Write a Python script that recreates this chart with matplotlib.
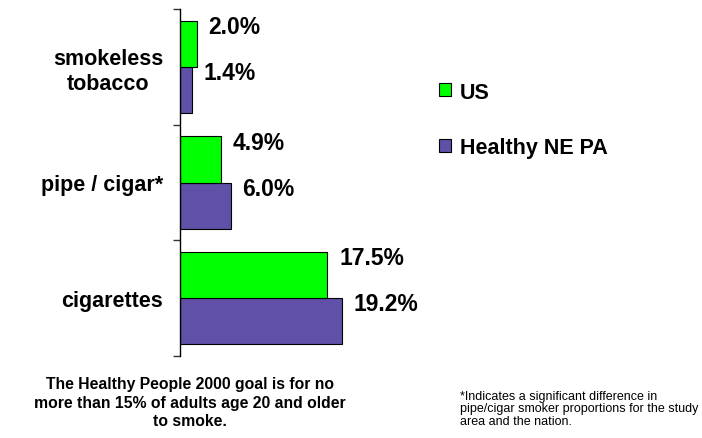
import numpy as np
import matplotlib.pyplot as plt
from matplotlib.patches import Patch

categories = ['cigarettes', 'pipe / cigar*', 'smokeless\ntobacco']
us_values = [17.5, 4.9, 2.0]
ne_pa_values = [19.2, 6.0, 1.4]
series_names = ['US', 'Healthy NE PA']
colors = ['#00FF00', '#6050A8']

plt.rcParams['font.family'] = ['Liberation Sans', 'DejaVu Sans']

fig = plt.figure(figsize=(7.02, 4.39), dpi=100)
ax = fig.add_axes([180 / 702, 1 - 357 / 439, 0.3, 347 / 439])

ind = np.arange(len(categories))
h = 0.4

bars_ne = ax.barh(ind - h / 2, ne_pa_values, h, color=colors[1], edgecolor='black', linewidth=0.8)
bars_us = ax.barh(ind + h / 2, us_values, h, color=colors[0], edgecolor='black', linewidth=0.8)

for bars in (bars_us, bars_ne):
    for rect in bars:
        w = rect.get_width()
        top = rect.get_y() + rect.get_height()
        ax.text(w + 1.4, top - 0.05, "%.1f%%" % w, ha='left', va='center',
                fontsize=16.5, fontweight='bold', clip_on=False)

ax.set_xlim(0, 25)
ax.set_ylim(-0.5, len(categories) - 0.5)

ax.set_yticks(ind)
ax.set_yticklabels(categories, fontsize=15.5, fontweight='bold', multialignment='center')
ax.tick_params(axis='y', which='major', length=0, pad=12)
ax.set_yticks(np.arange(len(categories) + 1) - 0.5, minor=True)
ax.tick_params(axis='y', which='minor', length=5, width=1, color='#333333')

ax.set_xticks([])
for s in ('top', 'right', 'bottom'):
    ax.spines[s].set_visible(False)
ax.spines['left'].set_linewidth(1)

handles = [Patch(facecolor=colors[0], edgecolor='black', linewidth=0.8),
           Patch(facecolor=colors[1], edgecolor='black', linewidth=0.8)]
fig.legend(handles, series_names, loc='upper left', bbox_to_anchor=(0.626, 0.812),
           frameon=False, prop={'weight': 'bold', 'size': 15.5},
           handlelength=0.55, handleheight=0.55, handletextpad=0.4,
           labelspacing=1.6, borderpad=0, borderaxespad=0)

fig.text(190 / 702, 1 - 377 / 439,
         'The Healthy People 2000 goal is for no\nmore than 15% of adults age 20 and older\nto smoke.',
         ha='center', va='top', fontsize=11.3, fontweight='bold', linespacing=1.3)

fig.text(460 / 702, 1 - 391 / 439,
         '*Indicates a significant difference in\npipe/cigar smoker proportions for the study\narea and the nation.',
         ha='left', va='top', fontsize=9, linespacing=1.05)

fig.savefig('out.png', dpi=100)
